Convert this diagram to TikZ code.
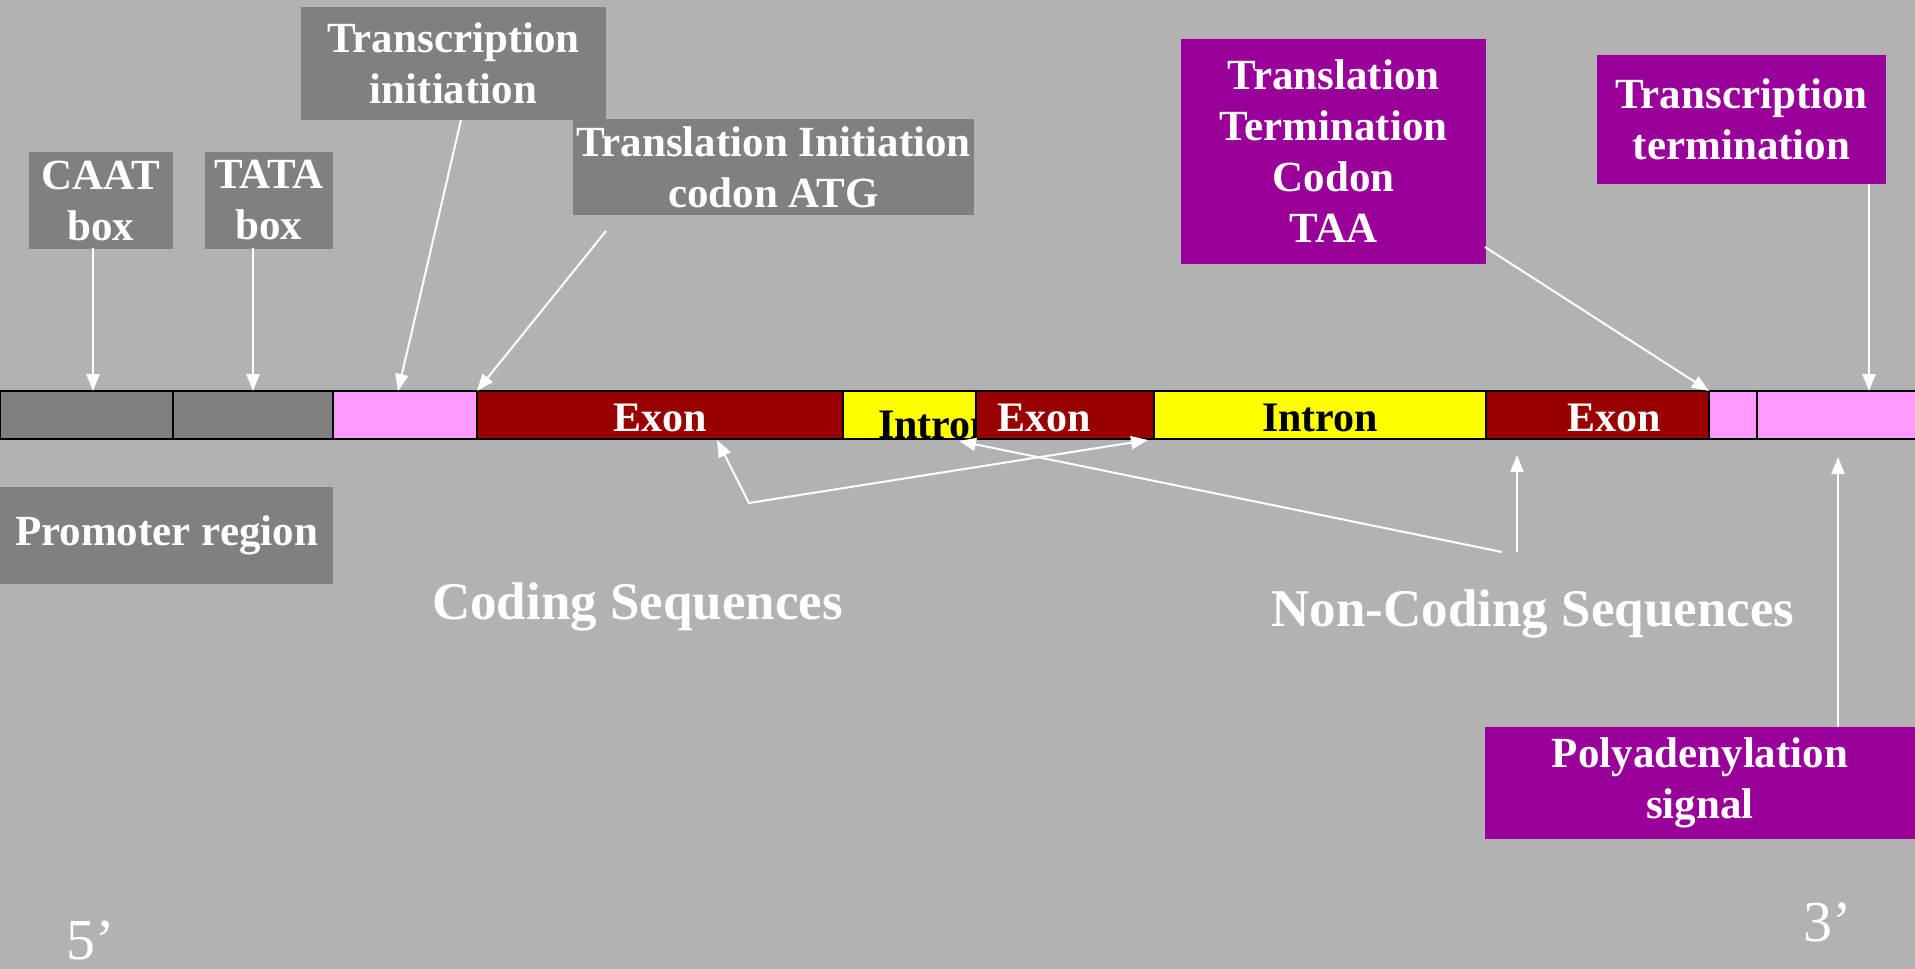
\documentclass[tikz,border=0pt]{standalone}
\usepackage{fontspec}
\setmainfont{Liberation Serif}
\usetikzlibrary{arrows.meta}
\definecolor{bg}{HTML}{B2B2B2}
\definecolor{boxgray}{HTML}{808080}
\definecolor{purp}{HTML}{990099}
\definecolor{exonred}{HTML}{990000}
\definecolor{intronyel}{HTML}{FFFF00}
\definecolor{utrpink}{HTML}{FF99FF}
\begin{document}
\begin{tikzpicture}[x=1pt,y=-1pt,
  seg/.style={draw=black, line width=2pt, inner sep=0pt, outer sep=0pt, minimum height=48pt, anchor=west},
  lbl/.style={inner sep=0pt, outer sep=0pt, text=white, align=center, font=\fontsize{43}{51}\selectfont\bfseries},
  graybox/.style={lbl, fill=boxgray},
  purpbox/.style={lbl, fill=purp},
  segtext/.style={font=\fontsize{42}{51}\selectfont\bfseries, inner sep=0pt, anchor=base},
  big/.style={text=white, inner sep=0pt, anchor=base, font=\fontsize{53}{60}\selectfont\bfseries},
  prime/.style={text=white, inner sep=0pt, anchor=base west, font=\fontsize{58}{60}\selectfont},
  tip/.style={Triangle[length=17pt,width=13pt]},
  arr/.style={draw=white, line width=2pt, -{Triangle[length=17pt,width=13pt]}},
  darr/.style={draw=white, line width=2pt, {Triangle[length=17pt,width=13pt]}-{Triangle[length=17pt,width=13pt]}}
]
\fill[bg] (0,0) rectangle (1915,969);
\useasboundingbox (0,0) rectangle (1915,969);

% gene bar
\node[seg, fill=boxgray, minimum width=173pt] (g1) at (0,415) {};
\node[seg, fill=boxgray, minimum width=160pt] (g2) at (173,415) {};
\node[seg, fill=utrpink, minimum width=144pt] (p1) at (333,415) {};
\node[seg, fill=exonred, minimum width=366pt] (e1) at (477,415) {};
\node[seg, fill=intronyel, minimum width=133pt] (i1) at (843,415) {};
\node[segtext, text=black] (i1t) at (936,438) {Intron};
\node[seg, fill=exonred, minimum width=178pt] (e2) at (976,415) {};
\node[seg, fill=intronyel, minimum width=332pt] (i2) at (1154,415) {};
\node[seg, fill=exonred, minimum width=223pt] (e3) at (1486,415) {};
\node[seg, fill=utrpink, minimum width=48pt] (p2) at (1709,415) {};
\node[seg, fill=utrpink, minimum width=170pt] (p3) at (1757,415) {};

\node[segtext, text=white] (e1t) at (660,431) {Exon};
\node[segtext, text=white] (e2t) at (1044,431) {Exon};
\node[segtext, text=black] (i2t) at (1320,431) {Intron};
\node[segtext, text=white] (e3t) at (1614,431) {Exon};

% label boxes
\node[graybox, minimum width=144pt, minimum height=97pt] (caat) at (101,200.5) {CAAT\\box};
\node[graybox, minimum width=128pt, minimum height=97pt] (tata) at (269,200.5) {TATA\\box};
\node[graybox, minimum width=305pt, minimum height=113pt] (tsi) at (453.5,63.5) {Transcription\\initiation};
\node[graybox, minimum width=401pt, minimum height=96pt] (tli) at (773.5,167) {Translation Initiation\\codon ATG};
\node[graybox, minimum width=333pt, minimum height=97pt] (prom) at (166.5,535.5) {Promoter region};
\node[purpbox, minimum width=305pt, minimum height=225pt] (ttc) at (1333.5,151.5) {Translation\\Termination\\Codon\\TAA};
\node[purpbox, minimum width=289pt, minimum height=129pt] (tst) at (1741.5,119.5) {Transcription\\termination};
\node[purpbox, minimum width=430pt, minimum height=112pt] (polya) at (1700,783) {Polyadenylation\\signal};

% free texts
\node[big] (cod) at (637.5,619) {Coding Sequences};
\node[big] (ncod) at (1533,626) {Non-Coding Sequences};
\node[prime] (five) at (66,959) {5’};
\node[prime] (three) at (1803,941) {3’};

% connector end points
\coordinate (caatA) at (93,248);   \coordinate (caatB) at (93,391);
\coordinate (tataA) at (253,248);  \coordinate (tataB) at (253,391);
\coordinate (tsiA) at (461,120);   \coordinate (tsiB) at (398,391);
\coordinate (tliA) at (606,231);   \coordinate (tliB) at (477,391);
\coordinate (ttcA) at (1485,247);  \coordinate (ttcB) at (1709,391);
\coordinate (tstA) at (1869,184);  \coordinate (tstB) at (1869,391);
\coordinate (codL) at (717,440);   \coordinate (codC) at (749,503);  \coordinate (codR) at (1148,440);
\coordinate (ncA) at (1502,552);   \coordinate (ncB) at (959,441);
\coordinate (ncV) at (1517,552);   \coordinate (ncVt) at (1517,455);
\coordinate (paA) at (1838,727);   \coordinate (paB) at (1838,457);

\draw[arr] (caatA) -- (caatB);
\draw[arr] (tataA) -- (tataB);
\draw[arr] (tsiA) -- (tsiB);
\draw[arr] (tliA) -- (tliB);
\draw[arr] (ttcA) -- (ttcB);
\draw[arr] (tstA) -- (tstB);
\draw[darr] (codL) -- (codC) -- (codR);
\draw[arr] (ncA) -- (ncB);
\draw[arr] (ncV) -- (ncVt);
\draw[arr] (paA) -- (paB);
\end{tikzpicture}
\end{document}
